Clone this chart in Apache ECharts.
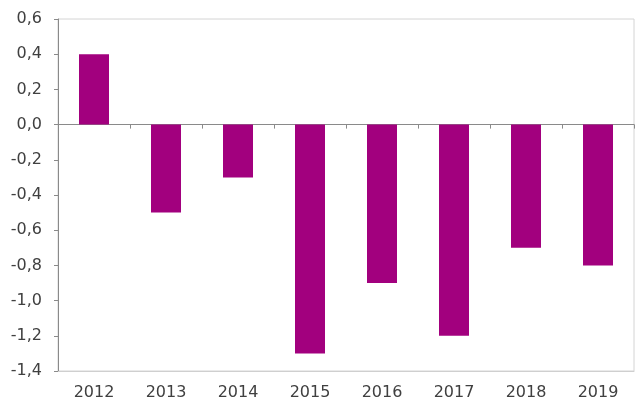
<!DOCTYPE html>
<html><head><meta charset="utf-8">
<script src="https://cdn.jsdelivr.net/npm/echarts@6/dist/echarts.min.js"></script>
<style>html,body{margin:0;padding:0;background:#fff}#c{width:637px;height:403px}</style>
</head><body><div id="c"></div>
<script>
const categories = ['2012','2013','2014','2015','2016','2017','2018','2019'];
const values = [0.4, -0.5, -0.3, -1.3, -0.9, -1.2, -0.7, -0.8];
const yMin = -1.4, yMax = 0.6, yStep = 0.2;

const font = '"DejaVu Sans", sans-serif';
const chart = echarts.init(document.getElementById('c'));
chart.setOption({
  animation: false,
  grid: { left: 58, right: 3, top: 19, bottom: 32, show: true, borderColor: '#d4d4d4', borderWidth: 1, backgroundColor: '#fff' },
  xAxis: [
    { type: 'category', data: categories, position: 'bottom',
      axisLine: { onZero: false, lineStyle: { color: '#cfcfcf', width: 1 } },
      axisTick: { show: false },
      axisLabel: { color: '#404040', fontSize: 16, fontFamily: font, margin: 14 } },
    { type: 'category', data: categories, position: 'top',
      axisLine: { onZero: true, lineStyle: { color: '#8a8a8a', width: 1 } },
      axisTick: { show: true, inside: true, length: 4, lineStyle: { color: '#8a8a8a' } },
      axisLabel: { show: false } }
  ],
  yAxis: {
    type: 'value', min: yMin, max: yMax, interval: yStep,
    axisLine: { show: true, lineStyle: { color: '#8a8a8a', width: 1 } },
    axisTick: { show: true, length: 4, lineStyle: { color: '#8a8a8a' } },
    splitLine: { show: false },
    axisLabel: { color: '#404040', fontSize: 16, fontFamily: font, margin: 16,
      formatter: v => (Math.round(v * 10) / 10).toFixed(1).replace('.', ',') }
  },
  series: [{
    type: 'bar', data: values, barWidth: 30,
    itemStyle: { color: '#A2007E' }
  }]
});
</script></body></html>
